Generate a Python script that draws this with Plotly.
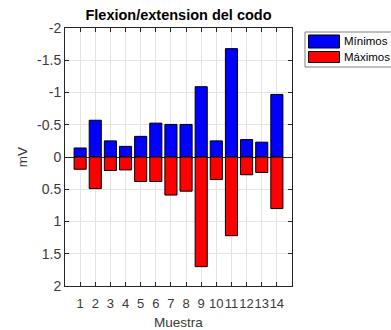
import plotly.graph_objects as go

# Muestras 1..14 y amplitudes (mV) de cada serie
muestras = list(range(1, 15))
minimos = [-0.14, -0.57, -0.25, -0.165, -0.32, -0.525, -0.505, -0.505,
           -1.09, -0.25, -1.68, -0.27, -0.23, -0.97]
maximos = [0.19, 0.49, 0.21, 0.20, 0.38, 0.38, 0.59, 0.53,
           1.70, 0.35, 1.22, 0.275, 0.24, 0.80]

y_ticks = [-2, -1.5, -1, -0.5, 0, 0.5, 1, 1.5, 2]
y_labels = ["-2", "-1.5", "-1", "-0.5", "0", "0.5", "1", "1.5", "2"]

series_names = ["Mínimos", "Máximos"]
series_colors = ["#0000ff", "#ff0000"]

FONT = "Liberation Sans, Arial, sans-serif"
AX = "#262626"
TICK = "#3a3a3a"

fig = go.Figure()
for name, vals, col in zip(series_names, [minimos, maximos], series_colors):
    fig.add_trace(go.Bar(
        x=muestras, y=vals, name=name, width=0.8,
        marker=dict(color=col, line=dict(color="#000000", width=1)),
        showlegend=False,
    ))

fig.update_layout(
    width=391, height=330,
    margin=dict(l=65, r=99, t=28, b=44, autoexpand=False),
    paper_bgcolor="white", plot_bgcolor="white",
    barmode="overlay",
    font=dict(family=FONT, size=13, color=AX),
    title=dict(text="<b>Flexion/extension del codo</b>",
               x=(65 + 292) / 2 / 391, xanchor="center",
               y=1 - 15 / 330, yanchor="middle",
               font=dict(size=14.5, color="#000000")),
    xaxis=dict(
        range=[0, 15], tickvals=muestras, ticktext=[str(m) for m in muestras],
        tickangle=0, ticklabelstandoff=5, automargin=False,
        showgrid=True, gridcolor="#e3e3e3", gridwidth=1,
        showline=True, linecolor=AX, linewidth=1, mirror="ticks",
        ticks="inside", ticklen=4, tickcolor=AX,
        zeroline=False,
        title=dict(text="Muestra", standoff=7, font=dict(size=13.5, color=TICK)),
        tickfont=dict(size=13, color=TICK),
    ),
    yaxis=dict(
        range=[2, -2], tickvals=y_ticks, ticktext=y_labels, automargin=False,
        showgrid=True, gridcolor="#e3e3e3", gridwidth=1,
        showline=True, linecolor=AX, linewidth=1, mirror="ticks",
        ticks="inside", ticklen=4, tickcolor=AX,
        zeroline=True, zerolinecolor=AX, zerolinewidth=1,
        title=dict(text="mV", standoff=6, font=dict(size=13.5, color=TICK)),
        tickfont=dict(size=14, color=TICK),
    ),
)

# Leyenda con muestras de color anchas, en la esquina superior derecha
W, H = 391, 330
def px(x):
    return (x - 65) / (W - 65 - 99)
def py(y):
    return 1 - (y - 28) / (H - 28 - 44)

fig.add_shape(type="rect", xref="paper", yref="paper",
              x0=px(305), x1=px(400), y0=py(67), y1=py(32),
              line=dict(color="#7f7f7f", width=1), fillcolor="white")
rows = [(35, 48), (51.5, 62.5)]
for (t, b), name, col in zip(rows, series_names, series_colors):
    fig.add_shape(type="rect", xref="paper", yref="paper",
                  x0=px(308.5), x1=px(339.5), y0=py(b), y1=py(t),
                  line=dict(color="#000000", width=1), fillcolor=col)
    fig.add_annotation(xref="paper", yref="paper",
                       x=px(341.5), y=py((t + b) / 2),
                       xanchor="left", yanchor="middle", showarrow=False,
                       text=name, font=dict(family=FONT, size=11.5, color="#000000"))

fig.write_html("out.html")
